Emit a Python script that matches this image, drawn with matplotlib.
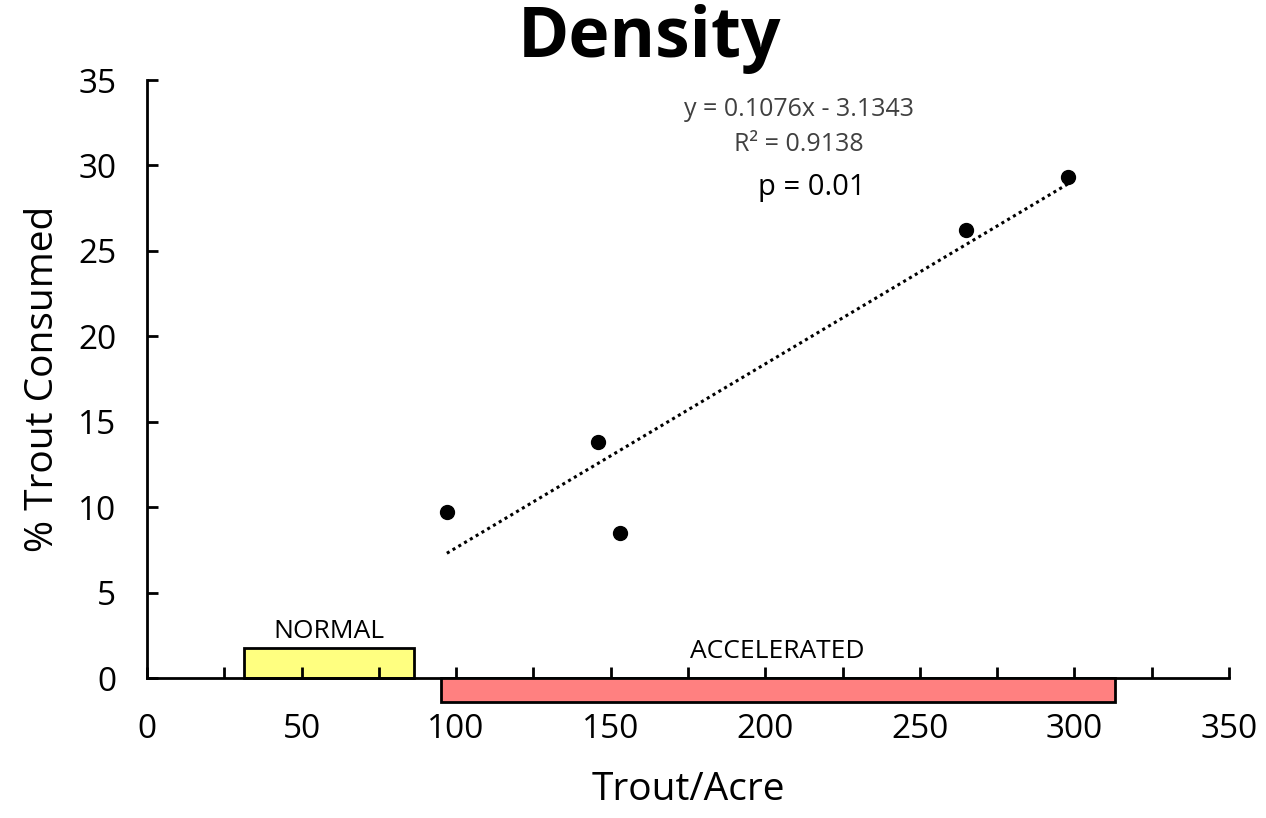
import numpy as np
import matplotlib.pyplot as plt
from matplotlib.patches import Rectangle

# data
trout_acre = [97, 146, 153, 265, 298]
pct_consumed = [9.7, 13.8, 8.5, 26.2, 29.3]
slope, intercept = 0.1076, -3.1343
normal_range = (31.5, 86.5)
accel_range = (95, 313)

plt.rcParams['font.family'] = ['Open Sans', 'DejaVu Sans']

fig = plt.figure(figsize=(12.66, 8.18), dpi=100)
ax = fig.add_axes([0.1161, 0.1711, 0.8547, 0.7311])

# trend line over the data range
xs = np.array([min(trout_acre), max(trout_acre)])
ax.plot(xs, slope * xs + intercept, color='black', linestyle=(0, (1, 1.2)), lw=2.2)
ax.plot(trout_acre, pct_consumed, 'o', color='black', ms=10, zorder=5)

# range boxes
ax.add_patch(Rectangle((normal_range[0], 0), normal_range[1] - normal_range[0], 1.75,
                       facecolor='#ffff80', edgecolor='black', lw=2, clip_on=False, zorder=1))
ax.add_patch(Rectangle((accel_range[0], -1.4), accel_range[1] - accel_range[0], 1.4,
                       facecolor='#ff8080', edgecolor='black', lw=2, clip_on=False, zorder=6))
ax.text(sum(normal_range) / 2, 2.0, 'NORMAL', ha='center', va='bottom', fontsize=19)
ax.text(204, 0.85, 'ACCELERATED', ha='center', va='bottom', fontsize=19)

ax.text(211, 33.3, 'y = 0.1076x - 3.1343', ha='center', va='center', fontsize=18, color='#404040')
ax.text(211, 31.2, 'R² = 0.9138', ha='center', va='center', fontsize=18, color='#404040')
ax.text(215, 28.7, 'p = 0.01', ha='center', va='center', fontsize=21)

ax.set_xlim(0, 350)
ax.set_ylim(0, 35)
ax.set_xticks(range(0, 351, 50))
ax.set_xticks(range(0, 351, 25), minor=True)
ax.set_yticks(range(0, 36, 5))
ax.spines['top'].set_visible(False)
ax.spines['right'].set_visible(False)
for s in ['left', 'bottom']:
    ax.spines[s].set_linewidth(2)
ax.tick_params(axis='x', which='both', direction='in', length=8, width=2, pad=25, labelsize=24)
ax.tick_params(axis='y', direction='in', length=8, width=2, pad=22, labelsize=24)
ax.set_xlabel('Trout/Acre', fontsize=28, labelpad=18)
ax.set_ylabel('% Trout Consumed', fontsize=28, labelpad=12)
fig.text(0.513, 0.952, 'Density', ha='center', va='center', fontsize=50, fontweight='bold')

fig.savefig('out.png', dpi=100)
